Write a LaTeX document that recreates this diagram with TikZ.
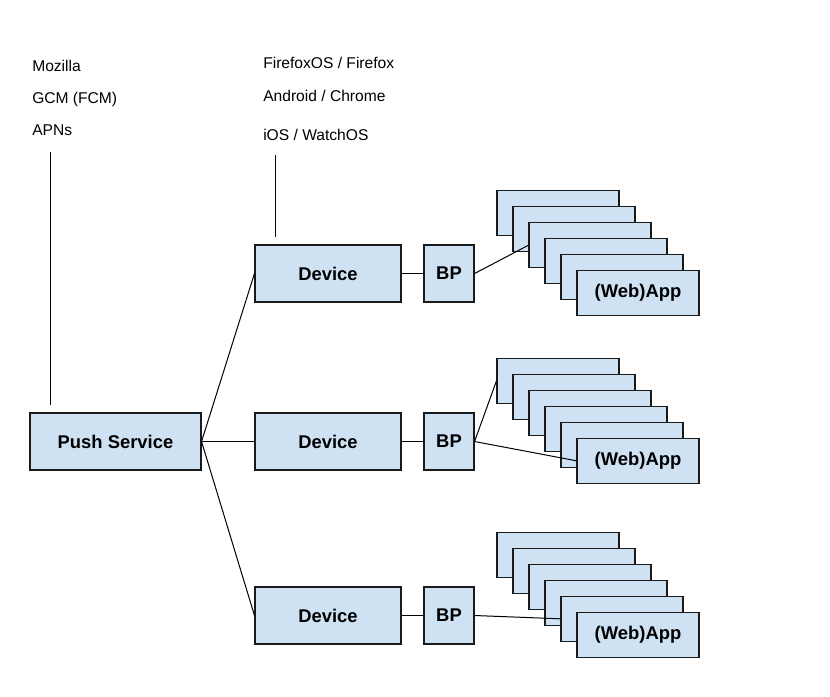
\documentclass[tikz,border=0pt]{standalone}
\usepackage{fontspec}
\setmainfont{Liberation Sans}
\definecolor{boxfill}{HTML}{CFE2F3}
\definecolor{boxline}{HTML}{1A1A1A}
\begin{document}
\begin{tikzpicture}[x=0.75pt,y=-0.75pt,
  box/.style={draw=boxline,fill=boxfill,line width=0.8pt,inner sep=0pt,
    font=\fontsize{13.8pt}{16pt}\selectfont\bfseries},
  psbox/.style={box,minimum width=128.25pt,minimum height=42.75pt},
  devbox/.style={box,minimum width=109.5pt,minimum height=42.75pt},
  bpbox/.style={box,minimum width=37.5pt,minimum height=42.75pt},
  appbox/.style={box,minimum width=91.5pt,minimum height=33.4pt},
  lbl/.style={anchor=base west,inner sep=0pt,font=\fontsize{11.7pt}{14pt}\selectfont},
  conn/.style={draw=black,line width=0.75pt}]
\useasboundingbox[fill=white] (0,0) rectangle (830,696);

% labels
\node[lbl] (t1) at (32,71.5) {Mozilla};
\node[lbl] (t2) at (32,103) {GCM (FCM)};
\node[lbl] (t3) at (32,135) {APNs};
\node[lbl] (t4) at (263,68) {FirefoxOS / Firefox};
\node[lbl] (t5) at (263,101) {Android / Chrome};
\node[lbl] (t6) at (263,140.5) {iOS / WatchOS};

% main nodes
\node[psbox] (ps) at (115.5,441.5) {Push Service};
\node[devbox] (d1) at (328,273.5) {Device};
\node[devbox] (d2) at (328,441.5) {Device};
\node[devbox] (d3) at (328,615.5) {Device};
\node[bpbox] (b1) at (449,273.5) {BP};
\node[bpbox] (b2) at (449,441.5) {BP};
\node[bpbox] (b3) at (449,615.5) {BP};

% app stacks
\foreach \g/\y in {1/213.2, 2/380.8, 3/554.8} {
  \foreach \k in {0,...,4} {
    \node[appbox] (a\g\k) at ({558+16*\k},{\y+16*\k}) {};
  }
  \node[appbox] (a\g5) at ({558+80},{\y+80}) {(Web)App};
}

% connectors
\coordinate (m1) at (50,152);
\coordinate (m2) at (50,405);
\coordinate (f1) at (275,155);
\coordinate (f2) at (275,237);
\draw[conn] (m1) -- (m2);
\draw[conn] (f1) -- (f2);
\draw[conn] (ps.east) -- (d1.west);
\draw[conn] (ps.east) -- (d2.west);
\draw[conn] (ps.east) -- (d3.west);
\draw[conn] (d1.east) -- (b1.west);
\draw[conn] (d2.east) -- (b2.west);
\draw[conn] (d3.east) -- (b3.west);
\draw[conn] (b1.east) -- (a12.west);
\draw[conn] (b2.east) -- (a20.west);
\draw[conn] (b2.east) -- (a25.west);
\draw[conn] (b3.east) -- (a34.west);
\end{tikzpicture}
\end{document}
